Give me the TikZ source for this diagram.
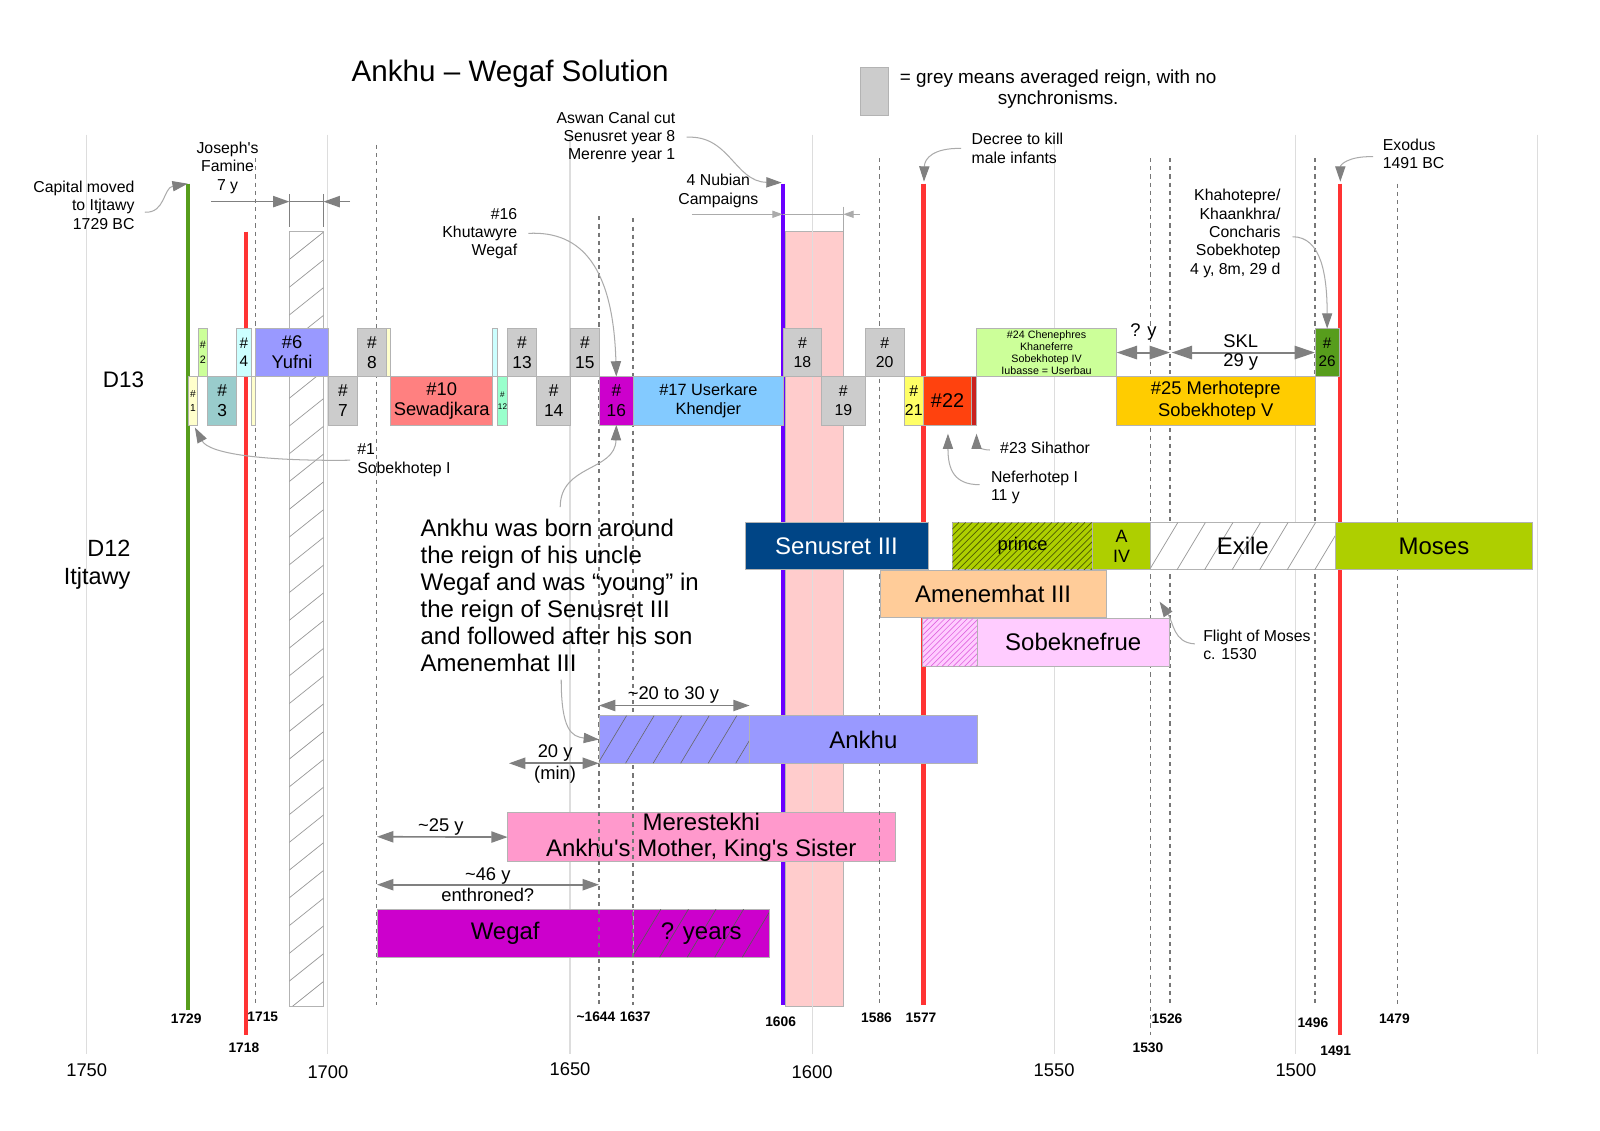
\documentclass[tikz,border=0pt]{standalone}
\usepackage{fontspec}
\setmainfont{Liberation Sans}[Ligatures=TeXOff]
\usetikzlibrary{arrows.meta, calc, positioning}
\definecolor{gridgrey}{HTML}{DDDDDD}
\definecolor{boxline}{HTML}{B3B3B3}
\definecolor{avg}{HTML}{CCCCCC}
\definecolor{arrowgrey}{HTML}{808080}
\definecolor{leadgrey}{HTML}{ABABAB}
\definecolor{dashgrey}{HTML}{777777}
\definecolor{hatchgrey}{HTML}{999999}
\definecolor{linegreen}{HTML}{579D1C}
\definecolor{linered}{HTML}{FF3333}
\definecolor{linepurple}{HTML}{6A00FF}
\definecolor{bandpink}{HTML}{FFCCCC}
\definecolor{paleyellow}{HTML}{FFFFCC}
\definecolor{palegreen}{HTML}{CCFF99}
\definecolor{paleteal}{HTML}{99CCCC}
\definecolor{palecyan}{HTML}{CCFFFF}
\definecolor{lilac}{HTML}{9999FF}
\definecolor{salmon}{HTML}{FF8080}
\definecolor{mint}{HTML}{99FFCC}
\definecolor{wegafmag}{HTML}{CC00CC}
\definecolor{skyblue}{HTML}{83CAFF}
\definecolor{lemon}{HTML}{FFFF66}
\definecolor{orangered}{HTML}{FF420E}
\definecolor{darkred}{HTML}{C9211E}
\definecolor{gold}{HTML}{FFCC00}
\definecolor{senblue}{HTML}{004586}
\definecolor{mosesgreen}{HTML}{AECF00}
\definecolor{peach}{HTML}{FFCC99}
\definecolor{pinklilac}{HTML}{FFCCFF}
\definecolor{rosepink}{HTML}{FF99CC}
\tikzset{
  fs/.style 2 args = {font=\fontsize{#1}{#2}\selectfont},
  reign/.style     = {draw=boxline, line width=0.8pt, inner sep=0pt, outer sep=0pt, anchor=north west, align=center},
  lbl/.style       = {inner sep=0pt, fs={15.5}{18}},
  big/.style       = {inner sep=0pt, fs={23.5}{26.6}},
  dimtxt/.style    = {inner sep=0pt, fs={18}{21.5}},
  yr/.style        = {inner sep=0pt, font=\fontsize{13.5}{15}\selectfont\bfseries},
  axislbl/.style   = {inner sep=0pt, fs={18}{20}},
  gridline/.style  = {gridgrey, line width=1pt},
  datedash/.style  = {dashgrey, line width=1.4pt, dash pattern=on 4pt off 4pt},
  dateline/.style  = {line width=4pt},
  dimline/.style   = {arrowgrey, line width=1.6pt},
  dimone/.style    = {dimline, -{Triangle[length=16pt, width=11pt]}},
  dimboth/.style   = {dimline, {Triangle[length=16pt, width=11pt]}-{Triangle[length=16pt, width=11pt]}},
  dimwide/.style   = {dimline, line width=2pt, {Triangle[length=20pt, width=13pt]}-{Triangle[length=20pt, width=13pt]}},
  nubdim/.style    = {leadgrey, line width=1pt, -{Triangle[length=10pt, width=7pt]}},
  lead/.style      = {leadgrey, line width=1pt, -{Triangle[length=15pt, width=10pt, color=arrowgrey]}},
}
\newcommand{\reignbox}[7]{%
  \pgfmathsetmacro{\bw}{#4-#2}%
  \pgfmathsetmacro{\bh}{#5-#3}%
  \node[reign, minimum width=\bw pt, minimum height=\bh pt, #6] (#1) at (#2,#3) {#7};
}
\newcommand{\hatchfill}[7]{%
  \begin{scope}
    \clip (#1,#2) rectangle (#3,#4);
    \pgfmathsetmacro{\hh}{#4-#2}
    \pgfmathsetmacro{\hrun}{#6*\hh}
    \pgfmathsetmacro{\hfrom}{#1-\hrun}
    \pgfmathsetmacro{\hsecond}{\hfrom+#5}
    \foreach \hx in {\hfrom,\hsecond,...,#3}
      \draw[#7] (\hx,#4) -- ++(\hrun,-\hh);
  \end{scope}
}

\begin{document}
\begin{tikzpicture}[x=1pt, y=-1pt]
  \useasboundingbox (0,0) rectangle (1568,1108);
  \fill[white] (0,0) rectangle (1568,1108);

  \draw[boxline, fill=bandpink] (769.3,227) rectangle (826.5,986);
  \draw[boxline, fill=white] (283.6,227) rectangle (317,986);
  \hatchfill{283.6}{227}{317}{986}{34}{1.25}{hatchgrey, line width=0.7pt}

  \foreach \gx in {85,321.4,558.6,795.8,1033,1270,1507}
    \draw[gridline] (\gx,132) -- (\gx,1033);

  \coordinate (greentop) at (184,180);
  \coordinate (purpletop) at (767,180);
  \coordinate (decreetop) at (905,180);
  \coordinate (exodustop) at (1313,180);
  \draw[dateline, linegreen] (greentop) -- (184,990);
  \draw[dateline, linered] (241,227) -- (241,1014);
  \draw[dateline, linepurple] (purpletop) -- (767,985);
  \draw[dateline, linered] (decreetop) -- (905,985);
  \draw[dateline, linered] (exodustop) -- (1313,1014);

  \reignbox{meres}{497.5}{796.4}{877}{843.8}{fill=rosepink, fs={23.5}{26}}{Merestekhi\\Ankhu's Mother, King's Sister}
  \reignbox{wegaf}{369.5}{891}{620.7}{938}{fill=wegafmag, fs={23.5}{26}}{Wegaf}
  \reignbox{wegafq}{620.7}{891}{753.6}{938}{fill=wegafmag}{}
  \hatchfill{620.7}{891}{753.6}{938}{27}{0.6}{black!65, line width=0.6pt}
  \node[big] (wegafqtxt) at (wegafq.center) {? years};

  \foreach \dx/\dtop/\dbot in {250.6/155/985, 369/142/985, 587/212/985, 620.3/214/985,
      862/155/985, 1127.3/155/1014, 1146.6/155/985, 1288.6/155/985, 1369.5/180/985}
    \draw[datedash] (\dx,\dtop) -- (\dx,\dbot);

  \reignbox{senusret}{730}{512}{909.5}{558.5}{fill=senblue, text=white, fs={23.5}{26}}{Senusret III}
  \reignbox{prince}{933.3}{512}{1070.9}{558.5}{fill=mosesgreen}{}
  \hatchfill{933.3}{512}{1070.9}{558.5}{6.5}{1}{black!55!mosesgreen, line width=0.7pt}
  \node[inner sep=0pt, fs={18}{20}] (princetxt) at (prince.center) {prince};
  \reignbox{aiv}{1070.9}{512}{1127.3}{558.5}{fill=mosesgreen, fs={17.5}{20}}{A\\IV}
  \reignbox{exile}{1127.3}{512}{1308.5}{558.5}{fill=white}{}
  \hatchfill{1127.3}{512}{1308.5}{558.5}{27}{0.6}{hatchgrey, line width=0.7pt}
  \node[big] (exiletxt) at (exile.center) {Exile};
  \reignbox{moses}{1308.5}{512}{1502}{558.5}{fill=mosesgreen, fs={23.5}{26}}{Moses}
  \reignbox{amenemhat}{862.3}{559}{1084.3}{605.5}{fill=peach, fs={23.5}{26}}{Amenemhat III}
  \reignbox{sobekhatch}{904.2}{606}{957.5}{653}{fill=pinklilac}{}
  \hatchfill{904.2}{606}{957.5}{653}{5.5}{1}{wegafmag!60, line width=0.6pt}
  \reignbox{sobeknefrue}{957.5}{606}{1146}{653}{fill=pinklilac, fs={23.5}{26}}{Sobeknefrue}
  \reignbox{ankhuhatch}{587}{701.4}{734.6}{748}{fill=lilac}{}
  \hatchfill{587}{701.4}{734.6}{748}{27}{0.6}{black!60, line width=0.6pt}
  \reignbox{ankhu}{734.6}{701.4}{957.6}{748}{fill=lilac, fs={23.5}{26}}{Ankhu}

  \reignbox{r1}{184.5}{369}{193.7}{416.5}{fill=paleyellow, fs={10}{13.5}}{\#\\1}
  \reignbox{r2}{194.4}{322}{203.2}{369}{fill=palegreen, fs={10.5}{15}}{\#\\2}
  \reignbox{r3}{203.5}{369}{232}{416.5}{fill=paleteal, fs={17}{19.5}}{\#\\3}
  \reignbox{r4}{232}{322}{246}{369}{fill=palecyan, fs={15}{18}}{\#\\4}
  \reignbox{r5}{246}{369}{250.5}{416.5}{fill=paleyellow}{}
  \reignbox{r6}{250.5}{322}{322}{369}{fill=lilac, fs={18}{19.5}}{\#6\\Yufni}
  \reignbox{r7}{322}{369}{350.2}{416.5}{fill=avg, fs={17}{19.5}}{\#\\7}
  \reignbox{r8}{350.2}{322}{379}{369}{fill=avg, fs={17}{19.5}}{\#\\8}
  \reignbox{r9}{379}{322}{383}{369}{fill=paleyellow}{}
  \reignbox{r10}{383}{369}{482.8}{416.5}{fill=salmon, fs={18}{20}}{\#10\\Sewadjkara}
  \reignbox{r11}{482.8}{322}{487.7}{369}{fill=palecyan}{}
  \reignbox{r12}{487.7}{369}{497.2}{416.5}{fill=mint, fs={8}{11.5}}{\#\\12}
  \reignbox{r13}{497.2}{322}{526}{369}{fill=avg, fs={17}{19.5}}{\#\\13}
  \reignbox{r14}{526}{369}{559.3}{416.5}{fill=avg, fs={17}{19.5}}{\#\\14}
  \reignbox{r15}{559.3}{322}{587}{369}{fill=avg, fs={17}{19.5}}{\#\\15}
  \reignbox{r16}{587.3}{369}{620.7}{416.5}{fill=wegafmag, fs={17}{20}}{\#\\16}
  \reignbox{r17}{620.7}{369}{767.7}{416.5}{fill=skyblue, fs={16}{18.5}}{\#17 Userkare\\Khendjer}
  \reignbox{r18}{767.7}{322}{805}{369}{fill=avg, fs={15.5}{18}}{\#\\18}
  \reignbox{r19}{805}{369}{848}{416.5}{fill=avg, fs={15.5}{18}}{\#\\19}
  \reignbox{r20}{848}{322}{886}{369}{fill=avg, fs={15.5}{18}}{\#\\20}
  \reignbox{r21}{886}{369}{905}{416.5}{fill=lemon, fs={15.5}{18}}{\#\\21}
  \reignbox{r22}{905}{369}{952.2}{416.5}{fill=orangered, fs={19.5}{21}}{\#22}
  \reignbox{r23}{952.2}{369}{957}{416.5}{fill=darkred}{}
  \reignbox{r24}{957}{322}{1094.3}{369}{fill=palegreen, fs={10.5}{12}}{\#24 Chenephres\\Khaneferre\\Sobekhotep IV\\Iubasse = Userbau}
  \reignbox{r25}{1094.3}{369}{1288.7}{416.5}{fill=gold, fs={18}{21}}{\#25 Merhotepre\\Sobekhotep V}
  \reignbox{r26}{1288.7}{322}{1312.5}{369}{fill=linegreen, fs={15}{18}}{\#\\26}

  \draw[dimone] (207,197.6) -- (283.6,197.6);
  \draw[dimline] (283.6,197.6) -- (317,197.6);
  \draw[dimone] (343,197.6) -- (317,197.6);
  \draw[dimline] (283.6,190) -- (283.6,222.8);
  \draw[dimline] (317,190) -- (317,222.8);
  \draw[nubdim] (678,210) -- (767,210);
  \draw[leadgrey, line width=1pt] (767,210) -- (826.5,210);
  \draw[nubdim] (843,210) -- (826.5,210);
  \draw[leadgrey, line width=1pt] (826.5,202.5) -- (826.5,235);

  \draw[dimwide] (r24.east) -- (1146.6,345.5);
  \draw[dimwide] (1148.2,345.5) -- (r26.west);
  \draw[dimboth] (ankhuhatch.north west) ++(0,-10) -- (734.6,691.4);
  \draw[dimboth] (498.8,748) -- (ankhuhatch.south west);
  \draw[dimboth] (369.5,820) -- (meres.west);
  \draw[dimboth] (369.5,867) -- (587,867);

  \node[inner sep=0pt, fs={29}{32}] (title) at (500,72) {Ankhu – Wegaf Solution};
  \node[reign, fill=avg, minimum width=28pt, minimum height=47pt] (legbox) at (843,66) {};
  \node[inner sep=0pt, fs={18.5}{20.5}, align=center] (legtxt) at (1037,87) {= grey means averaged reign, with no\\synchronisms.};

  \node[lbl, align=right, anchor=east] (capital) at (132,201) {Capital moved\\to Itjtawy\\1729 BC};
  \node[lbl, align=center] (famine) at (223,164.5) {Joseph's\\Famine\\7 y};
  \node[lbl, align=right, anchor=east] (aswan) at (662,134.6) {Aswan Canal cut\\Senusret year 8\\Merenre year 1};
  \node[lbl, align=center] (nubian) at (704,187) {4 Nubian\\Campaigns};
  \node[lbl, align=right, anchor=east] (khutawyre) at (507,229) {\#16\\Khutawyre\\Wegaf};
  \node[lbl, align=left, anchor=west] (decree) at (952,145.5) {Decree to kill\\male infants};
  \node[lbl, align=left, anchor=west] (exodus) at (1355,150.5) {Exodus\\1491 BC};
  \node[lbl, align=right, anchor=east] (khahotepre) at (1255,228.7) {Khahotepre/\\Khaankhra/\\Concharis\\Sobekhotep\\4 y, 8m, 29 d};
  \node[lbl, align=left, anchor=west] (sobekhotep) at (350,451) {\#1\\Sobekhotep I};
  \node[lbl, align=left, anchor=west] (neferhotep) at (971,477.5) {Neferhotep I\\11 y};
  \node[lbl, anchor=west] (sihathor) at (980,439) {\#23 Sihathor};
  \node[inner sep=0pt, fs={15.5}{18.5}, align=left, anchor=west] (flight) at (1179,632) {Flight of Moses\\c. 1530};
  \node[big, align=left, anchor=west] (born) at (412,583.5) {Ankhu was born around\\the reign of his uncle\\Wegaf and was “young” in\\the reign of Senusret III\\and followed after his son\\Amenemhat III};
  \node[inner sep=0pt, fs={22}{24}] (d13) at (121,372) {D13};
  \node[inner sep=0pt, fs={23}{27}, align=right, anchor=east] (d12) at (128,553.5) {D12\\Itjtawy};

  \node[dimtxt] (qy) at (1120.5,325) {? y};
  \node[dimtxt, align=center, fs={18}{18.6}] (skl) at (1216,345) {SKL\\29 y};
  \node[dimtxt] (range) at (660,681) {\textasciitilde20 to 30 y};
  \node[dimtxt, align=center] (minage) at (544,749) {20 y\\(min)};
  \node[dimtxt] (pre) at (432,810) {\textasciitilde25 y};
  \node[dimtxt, align=center, fs={18}{20.5}] (reignlen) at (478,867) {\textasciitilde46 y\\enthroned?};

  \draw[lead] (142,208) .. controls (162,209) and (160,184) .. (greentop);
  \draw[lead] (673,134.5) .. controls (715,132) and (720,178) .. (766,179);
  \draw[lead] (517.8,228.7) .. controls (570,226) and (601,262) .. (r16.north);
  \draw[lead] (941.8,145.4) .. controls (915,145) and (906,155) .. (905.5,178);
  \draw[lead] (1345.6,153.5) .. controls (1320,153) and (1313.5,162) .. (1313.5,178);
  \draw[lead] (1266.7,232) .. controls (1295,232) and (1300.6,270) .. (r26.north);
  \draw[lead] (343,451) .. controls (260,452) and (205,445) .. (191,419);
  \draw[lead] (549,497) .. controls (549,455) and (603,462) .. (r16.south);
  \draw[lead] (550,666) .. controls (550,715) and (560,722) .. (ankhuhatch.west);
  \draw[lead] (960,475) .. controls (935,475) and (929,460) .. (929,425);
  \draw[lead] (970,441) .. controls (962,441) and (957,437) .. (957,425);
  \draw[lead] (1171,631) .. controls (1150,630) and (1150,610) .. (1136.4,589.6);

  \foreach \yn/\yx/\yy/\yt in {a/182.5/998/1729, b/239/1026.7/1718, c/257.5/996.3/1715,
      d/584/996.3/{\textasciitilde1644}, e/622.5/996.3/1637, f/765/1001/1606, g/859/997/1586,
      h/902.6/997/1577, i/1125/1027/1530, j/1143.7/998.6/1526, k/1286.6/1002/1496,
      l/1309/1030/1491, m/1366.5/998.6/1479}
    \node[yr] (yr\yn) at (\yx,\yy) {\yt};
  \foreach \ax/\ay/\at in {85/1048.5/1750, 321.4/1051/1700, 558.6/1048/1650,
      795.8/1051/1600, 1033/1048.5/1550, 1270/1048.5/1500}
    \node[axislbl] (axis\at) at (\ax,\ay) {\at};
\end{tikzpicture}
\end{document}
